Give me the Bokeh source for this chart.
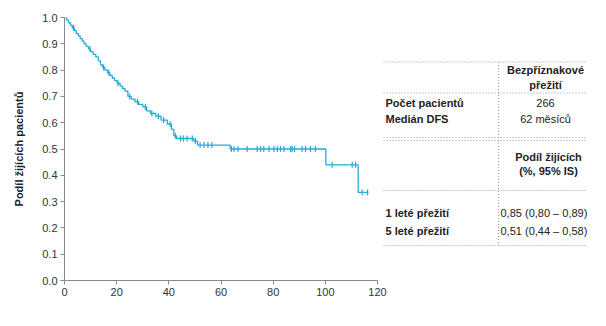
import numpy as np
from bokeh.plotting import figure
from bokeh.models import Range1d, FixedTicker, PrintfTickFormatter, Label
from bokeh.embed import file_html
from bokeh.resources import INLINE

# ---- data ----
event_t = [0, 0.8, 1.5, 2.3, 3, 3.8, 4.5, 5.3, 6, 6.8, 7.5, 8.3, 9.2, 10, 11, 12,
           13, 13.8, 14.6, 15.5, 16.5, 17.4, 18.3, 19.2, 20.2, 21.3, 22.2, 23.2,
           24.3, 25.6, 27, 28.4, 30, 31.5, 33, 35, 37, 39.4, 41, 41.9, 43, 49.6,
           51, 63.5, 100.2, 112.6]
surv = [1.0, 0.99, 0.98, 0.97, 0.96, 0.95, 0.94, 0.93, 0.92, 0.91, 0.90, 0.89,
        0.88, 0.87, 0.86, 0.85, 0.835, 0.82, 0.81, 0.80, 0.79, 0.78, 0.77, 0.76,
        0.75, 0.74, 0.73, 0.72, 0.70, 0.69, 0.68, 0.67, 0.66, 0.645, 0.635, 0.625,
        0.61, 0.595, 0.575, 0.55, 0.54, 0.53, 0.515, 0.50, 0.44, 0.335]
end_t = 116.5
censor_t = [3.5, 9.8, 15, 17, 20.5, 25, 28, 31, 33.5, 36, 38, 40.5, 42.5, 44.5,
            45.6, 47, 49, 50.2, 52, 53.5, 55, 56.5, 64, 65, 66.5, 70, 73.9, 75.2,
            76.4, 78.4, 80.3, 81.6, 82.8, 84.1, 86.7, 87.3, 88.2, 91.1, 92.4, 94.3,
            96.2, 102.6, 110.3, 111.6, 114.1, 116.2]

x_ticks = [0, 20, 40, 60, 80, 100, 120]
y_ticks = [0.0, 0.1, 0.2, 0.3, 0.4, 0.5, 0.6, 0.7, 0.8, 0.9, 1.0]
x_label = "Čas (měsíce)"
y_label = "Podíl žijících pacientů"

table_header1 = ["Bezpříznakové", "přežití"]
table_rows1 = [("Počet pacientů", "266"), ("Medián DFS", "62 měsíců")]
table_header2 = ["Podíl žijících", "(%, 95% IS)"]
table_rows2 = [("1 leté přežití", "0,85 (0,80 – 0,89)"),
               ("5 leté přežití", "0,51 (0,44 – 0,58)")]

COLOR = "#27a9d9"
FONT = "Liberation Sans"

# ---- layout ----
W, H = 590, 310
BL, BR, BT, BB = 64, 2, 17, 30
frame_w = W - BL - BR
axis_px = 313  # pixels for 0..120 months
x_end = 120 * frame_w / axis_px

p = figure(width=W, height=H, x_range=Range1d(0, x_end), y_range=Range1d(0, 1.0),
           output_backend="svg", toolbar_location=None,
           min_border_left=BL, min_border_right=BR, min_border_top=BT,
           min_border_bottom=BB)
p.outline_line_color = None
p.grid.visible = False
p.background_fill_color = "white"
p.border_fill_color = "white"

# picture-pixel ranges for annotations/table
left_px = BL
top_px = BT
bottom_px = H - BB
p.extra_x_ranges = {"px": Range1d(left_px, left_px + frame_w)}
p.extra_y_ranges = {"px": Range1d(bottom_px, top_px)}

# axes
xa = p.xaxis[0]
xa.ticker = FixedTicker(ticks=x_ticks)
xa.bounds = (0, 120)
ya = p.yaxis[0]
ya.ticker = FixedTicker(ticks=y_ticks)
ya.formatter = PrintfTickFormatter(format="%.1f")
for ax in (xa, ya):
    ax.axis_line_color = "#888888"
    ax.major_tick_line_color = "#888888"
    ax.major_tick_out = 4
    ax.major_tick_in = 0
    ax.minor_tick_line_color = None
    ax.major_label_text_font = FONT
    ax.major_label_text_font_size = "11px"
    ax.major_label_text_color = "#333333"
xa.major_label_standoff = 3
ya.major_label_standoff = 3
ya.axis_label = y_label
ya.axis_label_text_font = FONT
ya.axis_label_text_font_style = "bold"
ya.axis_label_text_font_size = "11px"
ya.axis_label_text_color = "#222222"
ya.axis_label_standoff = 14

# KM curve
xs = list(event_t) + [end_t]
ys = list(surv) + [surv[-1]]
p.step(xs, ys, mode="after", line_color=COLOR, line_width=1.3)
idx = np.searchsorted(np.array(event_t), np.array(censor_t), side="right") - 1
cy = np.array(surv)[idx]
p.scatter(censor_t, cy, marker="dash", angle=np.pi / 2, size=6,
          line_color=COLOR, line_width=1.2)

# x axis label
p.add_layout(Label(x=212, y=303, x_range_name="px", y_range_name="px",
                   text=x_label, text_font=FONT, text_font_style="bold",
                   text_font_size="11px", text_color="#222222",
                   text_align="center", text_baseline="middle"))

# ---- table ----
tl, tr, col = 383, 587, 498
hl = [61.5, 92.5, 137, 140, 190, 245]
p.segment(x0=[tl] * len(hl), y0=hl, x1=[tr] * len(hl), y1=hl,
          x_range_name="px", y_range_name="px",
          line_color="#9a9a9a", line_width=1, line_dash="1 2")
p.segment(x0=[col], y0=[61.5], x1=[col], y1=[245],
          x_range_name="px", y_range_name="px",
          line_color="#9a9a9a", line_width=1, line_dash="1 2")


def lab(x, y, t, bold=False, align="left", size="11px"):
    p.add_layout(Label(x=x, y=y, x_range_name="px", y_range_name="px", text=t,
                       text_font=FONT, text_font_style="bold" if bold else "normal",
                       text_font_size=size, text_color="#222222",
                       text_align=align, text_baseline="middle"))


lab(545, 69, table_header1[0], bold=True, align="center")
lab(545, 84, table_header1[1], bold=True, align="center")
for (name, val), yy in zip(table_rows1, [102, 118]):
    lab(385, yy, name, bold=True)
    lab(545, yy, val, align="center")
lab(548, 156, table_header2[0], bold=True, align="center")
lab(548, 170, table_header2[1], bold=True, align="center")
for (name, val), yy in zip(table_rows2, [212, 230]):
    lab(385, yy, name, bold=True)
    lab(500, yy, val)

open("out.html", "w").write(file_html(p, INLINE))
